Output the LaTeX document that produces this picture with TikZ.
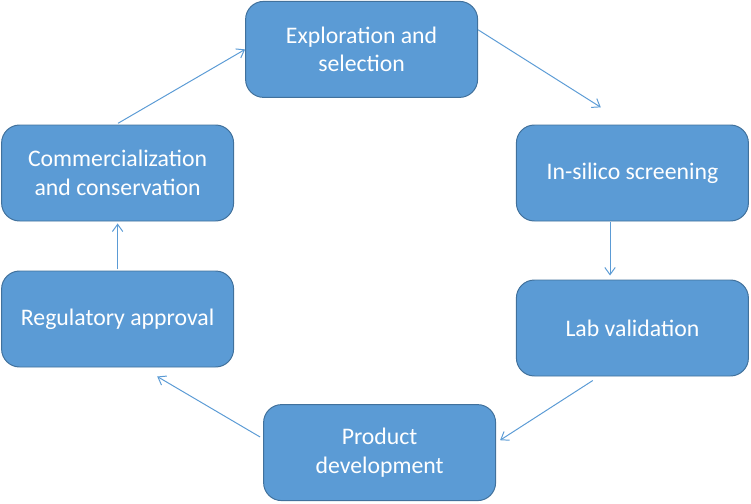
\documentclass[tikz,border=0pt]{standalone}
\usepackage{fontspec}
\setmainfont{Carlito}
\usetikzlibrary{calc,arrows.meta}
\definecolor{boxblue}{HTML}{5B9BD5}
\definecolor{boxline}{HTML}{41719C}

\begin{document}
\begin{tikzpicture}[
	stage/.style={draw=boxline, line width=0.7pt, fill=boxblue, rounded corners=0.45cm,
		minimum width=5.8cm, minimum height=2.4cm, align=center, text=white,
		font=\fontsize{16.9}{20.5}\selectfont},
	flow/.style={draw=boxblue, line width=0.7pt, -{Straight Barb[length=1.8mm,width=2.6mm]}}
	]
			%%%%% START %%%%%
			
			\useasboundingbox (0, 0) rectangle (18.775, 12.575);
			
			\node[stage] (explo) at (9.04, 11.34) {Exploration and\\selection};
			\node[stage] (silico) at (15.81, 8.25) {In-silico screening};
			\node[stage] (lab) at (15.81, 4.375) {Lab validation};
			\node[stage] (product) at (9.49, 1.26) {Product\\development};
			\node[stage] (regul) at (2.94, 4.6) {Regulatory approval};
			\node[stage] (commerc) at (2.94, 8.25) {Commercialization\\and conservation};
			
			\draw[flow] ($(explo.east)+(0, 0.49)$) -- ($(silico.north)+(-0.79, 0.43)$);
			\draw[flow] ($(silico.south)+(-0.56, -0.02)$) -- ($(lab.north)+(-0.56, 0.1)$);
			\draw[flow] ($(lab.south)+(-0.99, -0.1)$) -- ($(product.east)+(0.1, 0.31)$);
			\draw[flow] ($(product.west)+(-0.075, 0.39)$) -- ($(regul.south)+(0.99, -0.225)$);
			\draw[flow] ($(regul.north)+(0, 0.03)$) -- ($(commerc.south)+(0, -0.05)$);
			\draw[flow] ($(commerc.north)+(0.01, 0.03)$) -- (explo.west);
			
			%%%%% END %%%%%
\end{tikzpicture}
\end{document}
